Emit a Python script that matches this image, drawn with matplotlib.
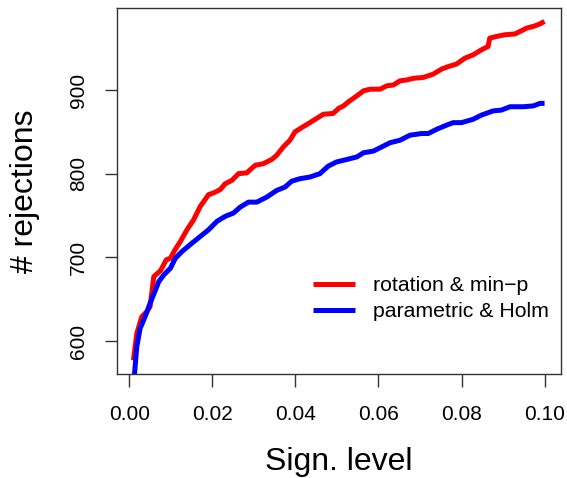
import matplotlib
matplotlib.use("Agg")
import matplotlib.pyplot as plt

plt.rcParams['font.family'] = ['Liberation Sans', 'DejaVu Sans']

# significance levels and number of rejections
rot_x = [0.001, 0.0018, 0.003, 0.0042, 0.005, 0.0059, 0.0075, 0.0089, 0.0099, 0.011,
         0.0123, 0.0139, 0.0155, 0.0171, 0.0191, 0.0203, 0.0219, 0.0231, 0.0247, 0.0263,
         0.0283, 0.0303, 0.0323, 0.0343, 0.0355, 0.0371, 0.0387, 0.0399, 0.0415, 0.0435,
         0.0451, 0.0467, 0.0491, 0.0504, 0.0516, 0.0528, 0.0548, 0.0564, 0.058, 0.0604,
         0.062, 0.0636, 0.0652, 0.0668, 0.0684, 0.0708, 0.0732, 0.0752, 0.0768, 0.0788,
         0.0808, 0.0828, 0.0848, 0.0864, 0.0868, 0.0884, 0.0904, 0.0929, 0.0941, 0.0957,
         0.0973, 0.0989, 0.1]
rot_y = [577, 609, 629, 635, 641, 677, 684, 697, 699, 709,
         719, 733, 745, 761, 775, 777, 781, 788, 792, 800,
         801, 810, 812, 817, 822, 832, 840, 850, 855, 861,
         866, 871, 872, 878, 881, 886, 893, 899, 901, 901,
         905, 906, 911, 912, 914, 915, 919, 925, 928, 931,
         938, 942, 948, 952, 962, 964, 966, 967, 970, 974,
         976, 979, 982]

holm_x = [0.001, 0.0018, 0.0026, 0.0038, 0.005, 0.0063, 0.0071, 0.0083, 0.0099, 0.0111,
          0.0127, 0.0151, 0.0171, 0.0191, 0.0211, 0.0231, 0.0251, 0.0267, 0.0287, 0.0307,
          0.0331, 0.0355, 0.0375, 0.0391, 0.0411, 0.0435, 0.0459, 0.0479, 0.0499, 0.0524,
          0.0548, 0.0564, 0.0588, 0.0608, 0.0628, 0.0652, 0.0676, 0.0704, 0.072, 0.074,
          0.0764, 0.078, 0.08, 0.0828, 0.0848, 0.0876, 0.0896, 0.0917, 0.0949, 0.0973,
          0.0989, 0.1]
holm_y = [545, 593, 615, 629, 645, 661, 671, 679, 687, 699,
          707, 717, 725, 733, 743, 749, 753, 760, 766, 766,
          772, 780, 784, 791, 794, 796, 800, 809, 814, 817,
          820, 825, 827, 832, 837, 840, 846, 848, 848, 853,
          858, 861, 861, 865, 870, 875, 876, 880, 880, 881,
          884, 884]

labels = ['rotation & min\u2212p', 'parametric & Holm']
x_ticks = [0.00, 0.02, 0.04, 0.06, 0.08, 0.10]
y_ticks = [600, 700, 800, 900]

fig = plt.figure(figsize=(5.67, 4.78), dpi=100)
ax = fig.add_axes([117 / 567, 1 - 374 / 478, 444 / 567, 366 / 478])

ax.plot(rot_x, rot_y, color='#ff0000', lw=3.6, label=labels[0], solid_capstyle='butt')
ax.plot(holm_x, holm_y, color='#0000ff', lw=3.6, label=labels[1], solid_capstyle='butt')

ax.set_xlim(-0.00296, 0.10396)
ax.set_ylim(560.6, 998)

ax.set_xticks(x_ticks)
ax.set_xticklabels(['%.2f' % v for v in x_ticks])
ax.set_yticks(y_ticks)
ax.set_yticklabels([str(v) for v in y_ticks], rotation=90, va='center')
ax.tick_params(axis='both', direction='out', length=9, width=1, labelsize=15, color='#333333')
ax.tick_params(axis='x', pad=13)
ax.tick_params(axis='y', pad=12)

for s in ax.spines.values():
    s.set_linewidth(1)
    s.set_color('#333333')

fig.text(339 / 567, 1 - 462 / 478, 'Sign. level', ha='center', va='center', fontsize=23)
fig.text(25 / 567, 1 - 191 / 478, '# rejections', ha='center', va='center', fontsize=23, rotation=90)

ax.legend(loc='upper left', bbox_to_anchor=((313 - 117) / 444, (374 - 276) / 366),
          frameon=False, fontsize=15.3, handlelength=1.97, handletextpad=0.85,
          labelspacing=0.35, borderaxespad=0, borderpad=0)

fig.savefig('out.png', dpi=100)
